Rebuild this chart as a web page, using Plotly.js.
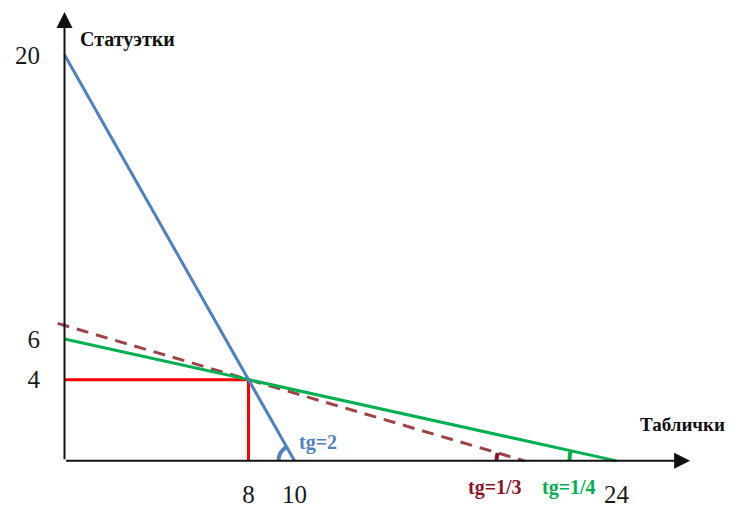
<!DOCTYPE html>
<html>
<head>
<meta charset="utf-8">
<script src="https://cdn.plot.ly/plotly-3.0.1.min.js"></script>
<style>
  html, body { margin: 0; padding: 0; background: #fff; }
  #chart { width: 732px; height: 515px; }
</style>
</head>
<body>
<div id="chart"></div>
<script>
/* Production possibilities sketch: statuettes vs tablets.
   Values are the ones labelled on the picture. */

const BLUE_X = [0, 10];        // tg = 2
const BLUE_Y = [20, 0];
const GREEN_X = [0, 24];       // tg = 1/4
const GREEN_Y = [6, 0];
const DASH_X = [-0.3, 20];     // tg = 1/3, through (8, 4)
const DASH_Y = [6.77, 0];
const RED_X = [0, 8, 8];       // chosen point (8, 4)
const RED_Y = [4, 4, 0];

const X_TICKS = [8, 10, 24];
const Y_TICKS = [4, 6, 20];

const BLUE = '#4F81BD';
const GREEN = '#00B050';
const RED = '#FF0000';
const DASH_COL = '#A04346';
const MAROON = '#8B1428';
const SERIF = '"Liberation Serif", "Times New Roman", serif';

const X_RANGE = [-0.5, 27.5];
const Y_RANGE = [-0.5, 22.5];
const MARGIN = { l: 53, r: 35, t: 4, b: 44 };
const pxPerX = (732 - MARGIN.l - MARGIN.r) / (X_RANGE[1] - X_RANGE[0]);
const pxPerY = (515 - MARGIN.t - MARGIN.b) / (Y_RANGE[1] - Y_RANGE[0]);

function lineTrace(x, y, color, dash) {
  return {
    type: 'scatter', mode: 'lines', x: x, y: y,
    line: { color: color, width: 3, dash: dash || 'solid' },
    hoverinfo: 'skip', showlegend: false
  };
}

// small angle arc at an x-intercept, drawn in pixels left of the anchor
function angleArc(xAnchor, slope, r, color) {
  const th = Math.atan(slope * pxPerY / pxPerX);
  const k = r / Math.cos(th / 2);
  const path = `M${-r},0 Q${-k * Math.cos(th / 2)},${k * Math.sin(th / 2)} ` +
               `${-r * Math.cos(th)},${r * Math.sin(th)}`;
  return {
    type: 'path', xref: 'x', yref: 'y', xsizemode: 'pixel', ysizemode: 'pixel',
    xanchor: xAnchor, yanchor: 0, path: path,
    line: { color: color, width: 4 }
  };
}

function axisArrow(x, y) {
  return {
    x: x, y: y, ax: 0, ay: 0, axref: 'x', ayref: 'y', xref: 'x', yref: 'y',
    text: '', showarrow: true, arrowhead: 2, arrowsize: 1.6, arrowwidth: 2,
    arrowcolor: '#111', standoff: 0, startstandoff: 0
  };
}

function label(text, x, y, color, size, opts) {
  return Object.assign({
    x: x, y: y, xref: 'x', yref: 'y', text: text, showarrow: false,
    font: { family: SERIF, size: size, color: color }
  }, opts || {});
}

const data = [
  lineTrace(RED_X, RED_Y, RED),
  lineTrace(DASH_X, DASH_Y, DASH_COL, '12px,8px'),
  lineTrace(GREEN_X, GREEN_Y, GREEN),
  lineTrace(BLUE_X, BLUE_Y, BLUE)
];

const tickFont = { family: SERIF, size: 25, color: '#1a1a1a' };

const layout = {
  width: 732, height: 515,
  margin: MARGIN,
  paper_bgcolor: '#fff', plot_bgcolor: '#fff',
  showlegend: false,
  xaxis: {
    range: X_RANGE, showgrid: false, zeroline: false, showline: false,
    tickvals: X_TICKS, ticktext: X_TICKS.map(String), ticks: '',
    tickfont: tickFont, ticklabelstandoff: 6, fixedrange: true
  },
  yaxis: {
    range: Y_RANGE, showgrid: false, zeroline: false, showline: false,
    tickvals: Y_TICKS, ticktext: Y_TICKS.map(String), ticks: '',
    tickfont: tickFont, ticklabelstandoff: 12, fixedrange: true
  },
  shapes: [
    angleArc(BLUE_X[1], 2, 16, BLUE),
    angleArc(DASH_X[1], 1 / 3, 28, MAROON),
    angleArc(GREEN_X[1], 1 / 4, 47, GREEN)
  ],
  annotations: [
    axisArrow(27.2, 0),
    axisArrow(0, 22.1),
    label('<b>Статуэтки</b>', 2.76, 20.74, '#111', 20),
    label('<b>Таблички</b>', 26.85, 1.77, '#111', 19),
    label('<b>tg=2</b>', BLUE_X[1], 0, BLUE, 20,
      { xanchor: 'left', yanchor: 'bottom', xshift: 2, yshift: 5 }),
    label('<b>tg=1/3</b>', DASH_X[1], 0, MAROON, 20,
      { xanchor: 'center', yanchor: 'middle', xshift: -30, yshift: -27 }),
    label('<b>tg=1/4</b>', GREEN_X[1], 0, GREEN, 20,
      { xanchor: 'center', yanchor: 'middle', xshift: -48, yshift: -27 })
  ]
};

Plotly.newPlot('chart', data, layout, { displayModeBar: false, staticPlot: true });
</script>
</body>
</html>
